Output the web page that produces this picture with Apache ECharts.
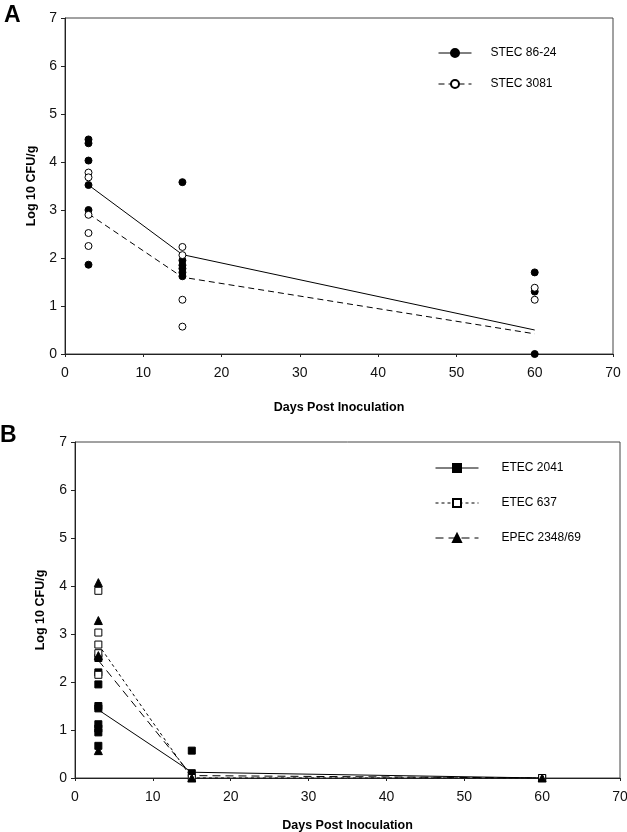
<!DOCTYPE html>
<html><head><meta charset="utf-8">
<script src="https://cdn.jsdelivr.net/npm/echarts@6/dist/echarts.min.js"></script>
<style>html,body{margin:0;padding:0;background:#fff}#c{width:627px;height:832px}</style>
</head><body><div id="c"></div>
<script>
// ---- Panel A data ----
var stec8624Points = [[3,4.47],[3,4.39],[3,4.03],[3,3.52],[3,3.0],[3,1.86],[15,3.58],[15,1.95],[15,1.85],[15,1.78],[15,1.7],[15,1.62],[60,1.7],[60,1.3],[60,0]];
var stec3081Points = [[3,3.78],[3,3.68],[3,2.9],[3,2.52],[3,2.25],[15,2.23],[15,2.06],[15,1.13],[15,0.57],[60,1.38],[60,1.13]];
var stec8624Mean = [[3,3.52],[15,2.07],[60,0.5]];
var stec3081Mean = [[3,2.92],[15,1.6],[60,0.42]];
// ---- Panel B data ----
var etec2041Points = [[3,2.5],[3,2.2],[3,1.95],[3,1.5],[3,1.45],[3,1.12],[3,1.03],[3,0.95],[3,0.67],[15,0.57],[15,0.1],[60,0]];
var etec637Points = [[3,3.9],[3,3.03],[3,2.78],[3,2.6],[3,2.15],[15,0],[60,0]];
var epecPoints = [[3,4.07],[3,3.28],[3,2.55],[3,0.57],[15,0],[60,0]];
var etec2041Mean = [[3,1.42],[15,0.12],[60,0]];
var etec637Mean = [[3,2.78],[15,0],[60,0]];
var epecMean = [[3,2.45],[15,0.05],[60,0]];
var xTicks = [0,10,20,30,40,50,60,70];
var yTicks = [0,1,2,3,4,5,6,7];

var chart = echarts.init(document.getElementById('c'));
var F = 'Liberation Sans, Arial, sans-serif';
function xAx(gi,gap){return {gridIndex:gi,type:'value',min:0,max:70,interval:10,
  name:'Days Post Inoculation',nameLocation:'middle',nameGap:gap,
  nameTextStyle:{fontFamily:F,fontSize:12.5,fontWeight:'bold',color:'#000'},
  axisLine:{lineStyle:{color:'#222',width:1}},axisTick:{show:true,length:3,lineStyle:{color:'#222'}},
  axisLabel:{fontFamily:F,fontSize:14,color:'#111',margin:12},splitLine:{show:false}};}
function yAx(gi,gap){return {gridIndex:gi,type:'value',min:0,max:7,interval:1,
  name:'Log 10 CFU/g',nameLocation:'middle',nameGap:gap,nameRotate:90,
  nameTextStyle:{fontFamily:F,fontSize:12.5,fontWeight:'bold',color:'#000'},
  axisLine:{show:true,lineStyle:{color:'#222',width:1}},axisTick:{show:true,length:4,lineStyle:{color:'#222'}},
  axisLabel:{fontFamily:F,fontSize:14,color:'#111',margin:8},splitLine:{show:false}};}
function meanData(arr){return arr.map(function(p){return {value:p,symbol:'none'};});}
function lineS(name,gi,arr,type,sym,fill,size){return {name:name,type:'line',xAxisIndex:gi,yAxisIndex:gi,
  data:meanData(arr),symbol:sym,symbolSize:size,showSymbol:true,z:2,
  lineStyle:{color:'#000',width:1,type:type},itemStyle:{color:fill,borderColor:'#000',borderWidth:1},silent:true};}
function ptS(name,gi,arr,sym,fill,size){return {name:name+' pts',type:'scatter',xAxisIndex:gi,yAxisIndex:gi,
  data:arr,symbol:sym,symbolSize:size,z:3,itemStyle:{color:fill,borderColor:'#000',borderWidth:1,opacity:1}};}

chart.setOption({
  animation:false,
  backgroundColor:'#fff',
  grid:[{left:65,top:18,width:548,height:336,show:true,borderColor:'#444',borderWidth:1,backgroundColor:'transparent',outerBoundsMode:'none',containLabel:false},
        {left:75,top:442,width:545,height:336,show:true,borderColor:'#444',borderWidth:1,backgroundColor:'transparent',outerBoundsMode:'none',containLabel:false}],
  xAxis:[xAx(0,47),xAx(1,41)],
  yAxis:[yAx(0,22),yAx(1,28)],
  legend:[
    {data:['STEC 86-24','STEC 3081'],orient:'vertical',left:433,top:42,itemWidth:33,itemHeight:10,itemGap:19,
     lineStyle:{width:1},
     textStyle:{fontFamily:F,fontSize:12,color:'#000',padding:[0,0,0,14]},selectedMode:false},
    {data:['ETEC 2041','ETEC 637','EPEC 2348/69'],orient:'vertical',left:430,top:457,itemWidth:43,itemHeight:10,itemGap:23,
     lineStyle:{width:1},
     textStyle:{fontFamily:F,fontSize:12,color:'#000',padding:[0,0,0,18]},selectedMode:false}
  ],
  graphic:[
    {type:'text',left:4,top:4,style:{text:'A',font:'bold 23px '+F,fill:'#000'}},
    {type:'text',left:0,top:424,style:{text:'B',font:'bold 23px '+F,fill:'#000'}}
  ],
  series:[
    lineS('STEC 86-24',0,stec8624Mean,'solid','circle','#000',8),
    lineS('STEC 3081',0,stec3081Mean,[6,4],'circle','#fff',8),
    ptS('STEC 86-24',0,stec8624Points,'circle','#000',7),
    ptS('STEC 3081',0,stec3081Points,'circle','#fff',7),
    lineS('ETEC 2041',1,etec2041Mean,'solid','rect','#000',8),
    lineS('ETEC 637',1,etec637Mean,[3,3],'rect','#fff',8),
    lineS('EPEC 2348/69',1,epecMean,[8,5],'triangle','#000',9),
    ptS('ETEC 2041',1,etec2041Points,'rect','#000',7),
    ptS('ETEC 637',1,etec637Points,'rect','#fff',7),
    ptS('EPEC 2348/69',1,epecPoints,'triangle','#000',8)
  ]
});
</script></body></html>
